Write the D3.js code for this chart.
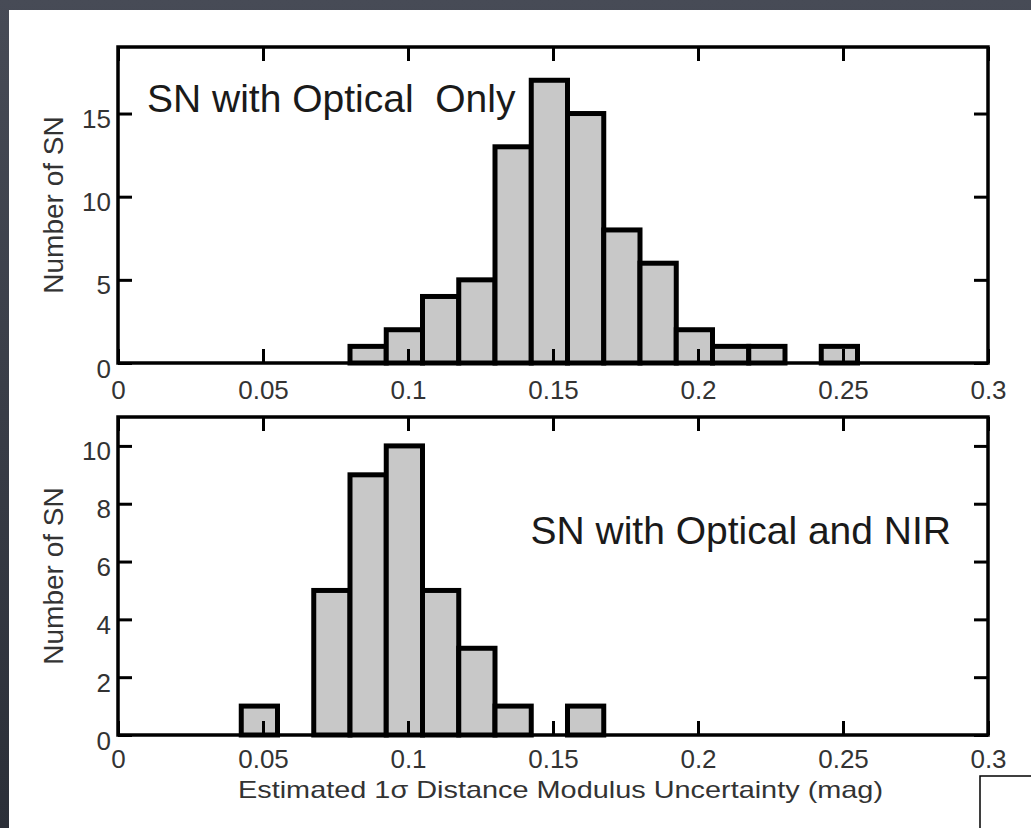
<!DOCTYPE html>
<html>
<head>
<meta charset="utf-8">
<script src="https://cdn.jsdelivr.net/npm/d3@7"></script>
<style>
  html, body { margin: 0; padding: 0; background: #3c414c; }
  svg { display: block; }
  text { font-family: "Liberation Sans", Arial, Helvetica, sans-serif; }
</style>
</head>
<body>
<svg id="chart" width="1031" height="828"></svg>
<script>
// ---- data ----
const binWidth = 0.0125;
const topBinStarts = [0.08, 0.0925, 0.105, 0.1175, 0.13, 0.1425, 0.155, 0.1675, 0.18, 0.1925, 0.205, 0.2175, 0.23, 0.2425];
const topCounts    = [1, 2, 4, 5, 13, 17, 15, 8, 6, 2, 1, 1, 0, 1];
const bottomBinStarts = [0.0425, 0.055, 0.0675, 0.08, 0.0925, 0.105, 0.1175, 0.13, 0.1425, 0.155];
const bottomCounts    = [1, 0, 5, 9, 10, 5, 3, 1, 0, 1];
const xTickValues = [0, 0.05, 0.1, 0.15, 0.2, 0.25, 0.3];
const xTickLabels = ["0", "0.05", "0.1", "0.15", "0.2", "0.25", "0.3"];
const topYTicks = [0, 5, 10, 15];
const bottomYTicks = [0, 2, 4, 6, 8, 10];
const topTitle = "SN with Optical  Only";
const bottomTitle = "SN with Optical and NIR";
const yLabel = "Number of SN";
const xLabel = "Estimated 1σ Distance Modulus Uncertainty (mag)";

// ---- layout ----
const svg = d3.select("#chart");
// dark backdrop with white page
const defs = svg.append("defs");
const grad = defs.append("linearGradient").attr("id", "bg").attr("x1", 0).attr("y1", 0).attr("x2", 0).attr("y2", 1);
grad.append("stop").attr("offset", "0%").attr("stop-color", "#474b56");
grad.append("stop").attr("offset", "100%").attr("stop-color", "#2b2f38");
svg.append("rect").attr("x", 0).attr("y", 0).attr("width", 1031).attr("height", 828).attr("fill", "url(#bg)");
svg.append("rect").attr("x", 9).attr("y", 10).attr("width", 1022).attr("height", 818).attr("fill", "#ffffff");

const left = 118, right = 988;
const x = d3.scaleLinear().domain([0, 0.3]).range([left, right]);

function panel(cfg) {
  const y = d3.scaleLinear().domain([0, cfg.yMax]).range([cfg.bottom, cfg.top]);
  const g = svg.append("g");
  const tickLen = 14;

  // bars
  const data = cfg.starts.map((s, i) => ({ s: s, c: cfg.counts[i] })).filter(d => d.c > 0);
  g.selectAll("rect.bar").data(data).enter().append("rect")
    .attr("class", "bar")
    .attr("x", d => x(d.s))
    .attr("width", d => x(d.s + binWidth) - x(d.s))
    .attr("y", d => y(d.c))
    .attr("height", d => y(0) - y(d.c))
    .attr("fill", "#c8c8c8")
    .attr("stroke", "#000")
    .attr("stroke-width", 5)
    .attr("stroke-linejoin", "miter");

  // inward ticks via d3 axes
  const axB = d3.axisBottom(x).tickValues(xTickValues).tickSizeInner(-tickLen).tickSizeOuter(0).tickFormat((d, i) => xTickLabels[i]);
  const axT = d3.axisTop(x).tickValues(xTickValues).tickSizeInner(-tickLen).tickSizeOuter(0).tickFormat("");
  const axL = d3.axisLeft(y).tickValues(cfg.yTicks).tickSizeInner(-tickLen).tickSizeOuter(0).tickFormat(d3.format("d"));
  const axR = d3.axisRight(y).tickValues(cfg.yTicks).tickSizeInner(-tickLen).tickSizeOuter(0).tickFormat("");

  const gb = g.append("g").attr("transform", `translate(0,${cfg.bottom})`).call(axB);
  const gt = g.append("g").attr("transform", `translate(0,${cfg.top})`).call(axT);
  const gl = g.append("g").attr("transform", `translate(${left},0)`).call(axL);
  const gr = g.append("g").attr("transform", `translate(${right},0)`).call(axR);
  [gb, gt, gl, gr].forEach(a => {
    a.select(".domain").remove();
    a.selectAll(".tick line").attr("stroke", "#000").attr("stroke-width", 3);
  });
  gb.selectAll(".tick text").attr("y", cfg.xLabelOffset).attr("dy", null).attr("font-size", 26).attr("fill", "#333")
    .style("font-family", "'Liberation Sans', Arial, sans-serif");
  gl.selectAll(".tick text").attr("x", -7).attr("dy", 14).attr("font-size", 26).attr("fill", "#333")
    .style("font-family", "'Liberation Sans', Arial, sans-serif");

  // frame
  g.append("rect").attr("x", left).attr("y", cfg.top).attr("width", right - left).attr("height", cfg.bottom - cfg.top)
    .attr("fill", "none").attr("stroke", "#000").attr("stroke-width", 3.5);

  // y label
  const cy = (cfg.top + cfg.bottom) / 2;
  g.append("text").attr("transform", `translate(63,${cy}) rotate(-90)`)
    .attr("text-anchor", "middle").attr("font-size", 28).attr("fill", "#333").text(yLabel);

  // annotation
  g.append("text").attr("x", cfg.titleX).attr("y", cfg.titleY).attr("text-anchor", cfg.titleAnchor)
    .attr("font-size", 39).attr("fill", "#1a1a1a").style("white-space", "pre").text(cfg.title);
}

panel({ top: 47, bottom: 363, yMax: 19, starts: topBinStarts, counts: topCounts, yTicks: topYTicks,
        title: topTitle, titleX: 147, titleY: 112, titleAnchor: "start", xLabelOffset: 36 });
panel({ top: 417, bottom: 735, yMax: 11, starts: bottomBinStarts, counts: bottomCounts, yTicks: bottomYTicks,
        title: bottomTitle, titleX: 951, titleY: 544, titleAnchor: "end", xLabelOffset: 33 });

// x label
svg.append("text").attr("x", 238).attr("y", 798).attr("font-size", 24).attr("fill", "#333")
  .attr("textLength", 645).attr("lengthAdjust", "spacingAndGlyphs").text(xLabel);

// stray box bottom right
svg.append("rect").attr("x", 980).attr("y", 776).attr("width", 60).attr("height", 60)
  .attr("fill", "#fff").attr("stroke", "#000").attr("stroke-width", 1.5);
</script>
</body>
</html>
